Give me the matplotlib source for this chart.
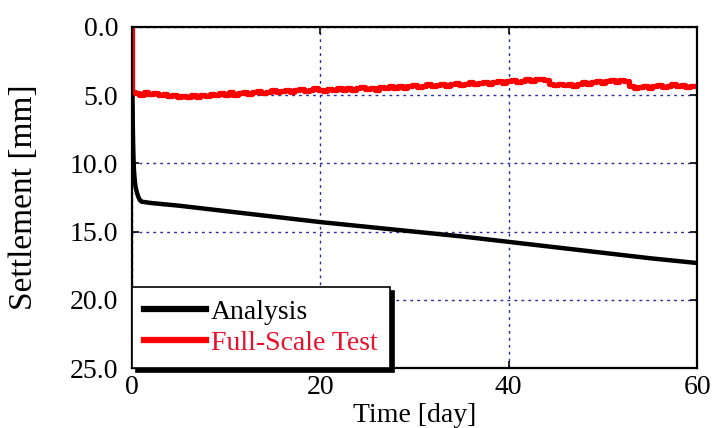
import numpy as np
import matplotlib
matplotlib.use("Agg")
import matplotlib.pyplot as plt

# Analysis (black) : time [day] and settlement [mm]
analysis_t = [0.0, 0.03, 0.06, 0.1, 0.15, 0.2, 0.3, 0.4, 0.55, 0.7, 0.85, 1.0,
              2.0, 5.0, 10.0, 15.0, 20.0, 25.0, 30.0, 35.0, 40.0, 45.0, 50.0, 55.0, 60.0]
analysis_s = [0.0, 3.0, 5.5, 7.8, 9.4, 10.4, 11.3, 11.8, 12.2, 12.5, 12.7, 12.8,
              12.9, 13.1, 13.5, 13.9, 14.3, 14.65, 15.0, 15.35, 15.75, 16.15, 16.55, 16.95, 17.3]

# Full-scale test (red): t = 0, 0.1, then every 0.5 day
test_t = [0.0, 0.1] + [0.5 * i for i in range(1, 121)]
test_s = [0.0, 4.8,
          4.85, 4.95, 4.80, 4.90, 4.85, 5.00, 4.90, 5.05, 4.95, 5.10,
          5.05, 5.15, 5.00, 5.10, 4.95, 5.05, 4.90, 5.00, 4.85, 4.95,
          4.80, 4.95, 4.85, 4.75, 4.90, 4.80, 4.70, 4.85, 4.75, 4.65,
          4.80, 4.70, 4.60, 4.75, 4.65, 4.55, 4.70, 4.60, 4.50, 4.60,
          4.70, 4.55, 4.65, 4.50, 4.60, 4.45, 4.60, 4.50, 4.40, 4.55,
          4.45, 4.60, 4.40, 4.50, 4.35, 4.45, 4.30, 4.45, 4.35, 4.25,
          4.40, 4.30, 4.20, 4.35, 4.25, 4.15, 4.30, 4.20, 4.10, 4.25,
          4.15, 4.05, 4.20, 4.10, 4.00, 4.15, 4.05, 3.95, 4.10, 3.95,
          3.90, 4.05, 3.95, 3.85, 3.95, 3.85, 3.80, 3.90, 4.20, 4.25,
          4.20, 4.25, 4.20, 4.30, 4.15, 4.05, 4.20, 4.05, 3.95, 4.10,
          3.95, 3.90, 4.05, 3.90, 3.95, 4.30, 4.45, 4.40, 4.30, 4.45,
          4.35, 4.25, 4.40, 4.30, 4.20, 4.35, 4.25, 4.40, 4.30, 4.35]

x_ticks = [0, 20, 40, 60]
y_ticks = [0.0, 5.0, 10.0, 15.0, 20.0, 25.0]

plt.rcParams['font.family'] = ['Liberation Serif', 'DejaVu Serif']

fig = plt.figure(figsize=(7.15, 4.28), dpi=100)
ax = fig.add_axes([0.1846, 0.140, 0.7904, 0.797])

ax.plot(analysis_t, analysis_s, color='black', linewidth=3.2, label='Analysis')
ax.plot(test_t, test_s, color='#ff0000', linewidth=3.8, drawstyle='steps-mid',
        label='Full-Scale Test')

ax.set_xlim(0, 60)
ax.set_ylim(25, 0)
ax.set_xticks(x_ticks)
ax.set_yticks(y_ticks)
ax.set_yticklabels([f"{v:.1f}" for v in y_ticks])
ax.tick_params(direction='in', length=5, width=1.2, labelsize=20,
               right=True, top=True, pad=5)
ax.tick_params(axis='y', pad=10)

ax.grid(True, color='#2a2aa0', linestyle=(0, (2, 3)), linewidth=1.0)
for sp in ax.spines.values():
    sp.set_linewidth(1.6)

ax.set_xlabel('Time [day]', fontsize=20, labelpad=2)
ax.set_ylabel('Settlement [mm]', fontsize=24, labelpad=22)

leg = ax.legend(loc='lower left', fontsize=20, frameon=True, fancybox=False,
                borderaxespad=0, handlelength=2.2, handletextpad=0.2,
                labelspacing=0.2, borderpad=0.45,
                shadow={'color': 'black', 'alpha': 1.0, 'ox': 3, 'oy': -3})
leg.get_frame().set_edgecolor('black')
leg.get_frame().set_linewidth(1.2)
leg.get_texts()[1].set_color('#e8102a')
for line in leg.get_lines():
    line.set_linewidth(4.5)

fig.savefig('out.png', dpi=100)
